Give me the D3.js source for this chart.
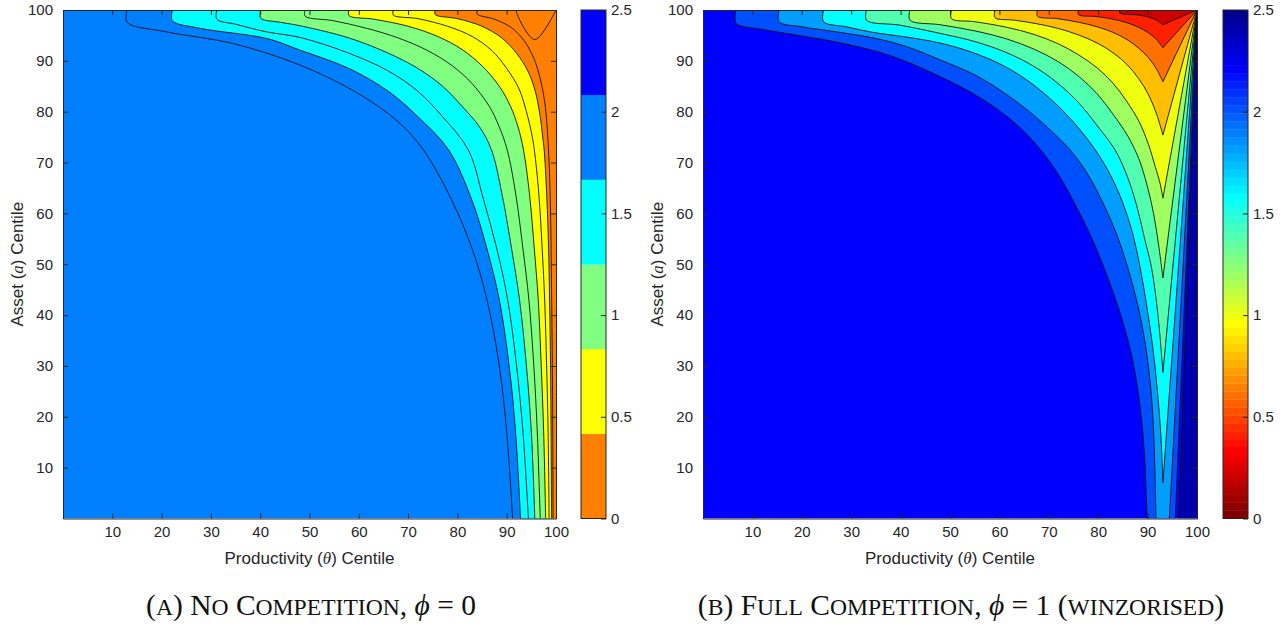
<!DOCTYPE html>
<html><head><meta charset="utf-8">
<script src="https://cdn.jsdelivr.net/npm/d3@7"></script>
<style>
body{margin:0;background:#fff;}
svg{display:block;}
text{fill:#262626;}
</style></head><body>
<svg id="chart" width="1287" height="626"></svg>
<script>
// ---------------- DATA ----------------
const xTicks = [10,20,30,40,50,60,70,80,90,100];
const yTicks = [10,20,30,40,50,60,70,80,90,100];
const cbTicks = [0,0.5,1,1.5,2,2.5];
const cbTickLabels = ["0","0.5","1","1.5","2","2.5"];
const cmapA = ["#ff8000","#ffff00","#80ff80","#00ffff","#0080ff","#0000ff"]; // 6-colour map, 0 -> 2.5

// Panel A: background band value, then each contour line (top edge -> bottom/right edge) with value of region beyond it
const bgValueA = 2.0;
const regionValuesA = [1.8,1.6,1.4,1.2,1.0,0.8,0.6,0.4,0.2,0.0];
const linesA = [
  [[13,100],[13,97.6],[21,95.7],[34.5,93.4],[48,89.2],[60,83.5],[68,78],[73.1,72.5],[78.8,62.7],[83,53],[86,43],[88.5,30],[90,17],[91.2,0]],
  [[22.2,100],[22.2,97.9],[27.8,96.4],[41.3,94.4],[48.1,92.1],[58,88.5],[66,84],[72,79],[78.2,72.5],[82.9,62.7],[86,53],[88.5,43],[90.5,30],[91.8,17],[92.8,0]],
  [[31.2,100],[31.2,98.2],[35,97.2],[41.3,95.7],[48.1,94.6],[58,91.5],[66,88],[72,84],[77,79],[82.2,72.5],[85.3,62.7],[88,53],[90.2,43],[92,30],[93.3,17],[94.4,0]],
  [[40.1,100],[40.1,98.4],[44,97.6],[48.1,96.9],[58,94.5],[66,91.5],[72,88.5],[77,85],[81,81],[84.5,77],[86.9,72.5],[89,64],[91,53],[92.6,43],[94,30],[95,17],[95.7,0]],
  [[49.1,100],[49.1,98.8],[54.8,97.9],[61.6,96.4],[68,94.5],[74,92],[79,89],[83,85.5],[86.5,81],[88.5,77],[90.1,72.5],[91.8,64],[93.3,53],[94.5,43],[95.5,30],[96.2,17],[96.8,0]],
  [[58,100],[58,98.9],[63,98.2],[70,96.8],[76,94.8],[81,92.2],[85,89],[88.5,85],[90.8,81],[92.3,77],[93.4,72.5],[94.6,64],[95.6,53],[96.4,43],[97,30],[97.5,17],[97.9,0]],
  [[67,100],[67,99],[72,98.3],[78,96.8],[83,94.8],[87,92],[90,88.5],[92.5,84.5],[94,80],[95,76],[95.6,72.5],[96.5,64],[97.2,53],[97.7,43],[98.1,30],[98.4,17],[98.6,0]],
  [[75.5,100],[75.5,99.1],[80,98.3],[85,96.8],[89,94.5],[92,91.5],[94.3,88],[95.8,84],[96.8,79],[97.3,75],[97.6,72.5],[98.1,64],[98.5,53],[98.7,43],[98.9,30],[99,17],[99.1,0]],
  [[84,100],[84,99.2],[87.5,98.2],[91,96.5],[93.5,94],[95.5,90.5],[96.8,86.5],[97.7,82],[98.2,77],[98.6,70],[98.9,60],[99.1,45],[99.3,25],[99.4,0]],
  [[92,100],[92,99.5],[95.7,94.2],[100,100]]
];

// Panel B: background band, right-edge strip, then nested V-shaped contours (left arm, right arm)
const bgValueB = 2.2;
const stripValueB = 2.4;
const stripLineB = [[100,100],[96.3,0]];
const regionValuesB = [2.0,1.8,1.6,1.4,1.2,1.0,0.8,0.6,0.4,0.2];
const leftArmsB = [
  [[6.7,100],[6.7,97.4],[12,96.2],[20,94.9],[28,93.5],[38,91],[48,86.9],[56,82.8],[62.5,78.3],[67.5,73.5],[71.7,68],[75.2,62],[78.3,56],[80.9,50],[83.2,44],[85.2,38],[87,31],[88.5,22],[89.4,12],[89.9,0]],
  [[15.4,100],[15.4,97.7],[20,96.7],[27.7,95.6],[35,94.4],[41.2,92.8],[48,90.2],[55.5,87],[62,83],[67.3,79],[71.8,75],[74.3,72.5],[77.7,68],[81,62],[83.7,56],[86,49.3],[88,42],[89.6,34],[90.7,25],[91.3,15],[91.7,0]],
  [[24.4,100],[24.4,97.7],[29,96.7],[34.4,95.6],[41,94.7],[48,93.5],[55,91.5],[61.5,88.7],[67,85.2],[71.8,81.2],[76,76.8],[79.4,72.5],[82.5,67.5],[85,62],[87,56],[88.5,49.3],[89.8,42],[91,34],[92,25],[92.7,16],[93.1,7]],
  [[33.1,100],[33.1,98],[40,97],[48,95.4],[55,93.8],[61.5,91.6],[67,88.9],[71.8,85.6],[76,81.8],[80,77],[83.4,72.5],[85.8,67.5],[87.8,61.5],[89.4,55],[90.8,49.3],[92.1,40],[93.1,28.7]],
  [[41.9,100],[41.9,98],[48,97.1],[55,95.9],[61.5,94.3],[67,92.3],[71.8,89.9],[76,87],[79.8,83.5],[83,79.5],[86,75.2],[88.2,70.8],[89.9,65.5],[91.2,60],[92.2,54],[93.1,47.3]],
  [[50.3,100],[50.3,98.3],[55,97.7],[61.5,96.6],[67,95.2],[71.8,93.4],[76,91.2],[79.8,88.6],[83,85.6],[85.8,82],[88.3,78],[90.2,73.5],[91.6,69],[92.5,66],[93.1,63]],
  [[59.1,100],[59.1,98.5],[63,98],[67,97.4],[71.8,96.4],[76,95.1],[79.8,93.5],[83,91.6],[85.8,89.3],[88.2,86.5],[90.2,83.3],[91.8,79.6],[93.1,75.4]],
  [[67.7,100],[67.7,98.8],[71.8,98.3],[76,97.6],[79.8,96.7],[83,95.6],[85.8,94.2],[88.2,92.5],[90.2,90.6],[91.8,88.4],[93.1,85.9]],
  [[76,100],[76,99.1],[79.8,98.7],[83,98.2],[85.8,97.5],[88.2,96.6],[90.2,95.5],[91.8,94.2],[93.1,92.6]],
  [[84.4,100],[84.4,99.4],[88.2,99],[90.2,98.6],[91.8,98],[93.1,97.1]]
];
const rightArmsB = [
  [[95.6,0],[100,100]],
  [[94.4,0],[100,100]],
  [[93.1,7],[100,100]],
  [[93.1,28.7],[100,100]],
  [[93.1,47.3],[100,100]],
  [[93.1,63],[100,100]],
  [[93.1,75.4],[100,100]],
  [[93.1,85.9],[100,100]],
  [[93.1,92.6],[100,100]],
  [[93.1,97.1],[100,100]]
];

// ---------------- COLOUR MAPS ----------------
function jet64(i){ // MATLAB jet(64), row i = 1..64
  const r = i<=24?0 : i<=40?(i-24)/16 : i<=55?1 : (72-i)/16;
  const g = i<=8?0 : i<=24?(i-8)/16 : i<=39?1 : i<=55?(56-i)/16 : 0;
  const b = i<=8?(i+8)/16 : i<=23?1 : i<=39?(40-i)/16 : 0;
  return d3.rgb(Math.round(r*255),Math.round(g*255),Math.round(b*255)).formatHex();
}
function colorB(v){ // flipped jet(64), caxis [0, 2.5]
  const k = Math.max(1, Math.min(64, Math.floor(v/2.5*64)+1));
  return jet64(65-k);
}
function colorA(v){
  const k = Math.max(0, Math.min(5, Math.floor(v/2.5*6)));
  return cmapA[k];
}

// ---------------- DRAW ----------------
const svg = d3.select("#chart");
const AX = "#262626";
const TOP = 10, BOTTOM = 518.5;
const SANS = "'Liberation Sans',Arial,sans-serif";

function smallCaps(textSel, str, ratio){
  const runs = [];
  for(const ch of str){
    const lower = ch !== ch.toUpperCase();
    if(runs.length && runs[runs.length-1].lower===lower) runs[runs.length-1].s += ch;
    else runs.push({lower, s:ch});
  }
  runs.forEach(r=>{
    const t = textSel.append("tspan").text(r.lower ? r.s.toUpperCase() : r.s);
    if(r.lower) t.style("font-size", (ratio*100)+"%");
  });
}

function panel(cfg){
  const g = svg.append("g");
  const x = d3.scaleLinear([0,100],[cfg.left,cfg.right]);
  const y = d3.scaleLinear([0,100],[BOTTOM,TOP]);
  const id = "clip"+cfg.name;
  svg.append("clipPath").attr("id",id).append("rect")
    .attr("x",cfg.left).attr("y",TOP).attr("width",cfg.right-cfg.left).attr("height",BOTTOM-TOP);
  const plot = g.append("g").attr("clip-path",`url(#${id})`);
  const line = d3.line().x(d=>x(d[0])).y(d=>y(d[1])).curve(d3.curveCatmullRom.alpha(0.5));
  plot.append("rect").attr("x",cfg.left).attr("y",TOP).attr("width",cfg.right-cfg.left).attr("height",BOTTOM-TOP)
    .attr("fill",cfg.color(cfg.bg));
  function regionPath(arms){
    let d = "";
    arms.forEach((a,i)=>{ let s = line(a); if(i>0) s = "L"+s.slice(1); d += s; });
    const last = arms[arms.length-1][arms[arms.length-1].length-1];
    if(last[1] <= 0 && last[0] < 100) d += `L${x(100)},${y(0)}`;
    if(!(last[0]===100 && last[1]===100)) d += `L${x(100)},${y(100)}`;
    return d+"Z";
  }
  cfg.regions.forEach(r=>{
    plot.append("path").attr("d",regionPath(r.arms)).attr("fill",cfg.color(r.value)).attr("stroke","none");
  });
  cfg.regions.forEach(r=>{
    r.arms.forEach(a=>{
      plot.append("path").attr("d",line(a)).attr("fill","none").attr("stroke","#111").attr("stroke-width",0.9);
    });
  });
  const fs = "15px";
  const ax = g.append("g").attr("transform",`translate(0,${BOTTOM})`)
    .call(d3.axisBottom(x).tickValues(xTicks).tickSizeInner(-5).tickSizeOuter(0).tickPadding(8).tickFormat(d3.format("d")));
  const ay = g.append("g").attr("transform",`translate(${cfg.left},0)`)
    .call(d3.axisLeft(y).tickValues(yTicks).tickSizeInner(-5).tickSizeOuter(0).tickPadding(10).tickFormat(d3.format("d")));
  const at = g.append("g").attr("transform",`translate(0,${TOP})`)
    .call(d3.axisTop(x).tickValues(xTicks).tickSizeInner(-5).tickSizeOuter(0).tickFormat(""));
  const ar = g.append("g").attr("transform",`translate(${cfg.right},0)`)
    .call(d3.axisRight(y).tickValues(yTicks).tickSizeInner(-5).tickSizeOuter(0).tickFormat(""));
  [ax,ay,at,ar].forEach(a=>{
    a.selectAll("path").attr("stroke",AX).attr("stroke-width",1);
    a.selectAll("line").attr("stroke",AX).attr("stroke-width",1);
    a.selectAll("text").attr("fill",AX).style("font-family",SANS).style("font-size",fs);
  });
  const cx = (cfg.left+cfg.right)/2;
  const xt = g.append("text").attr("x",cx).attr("y",564).attr("text-anchor","middle")
    .style("font-family",SANS).style("font-size","17px");
  xt.append("tspan").text("Productivity (");
  xt.append("tspan").text("θ").style("font-family","'Liberation Serif',serif").style("font-style","italic");
  xt.append("tspan").text(") Centile");
  const yt = g.append("text").attr("transform",`translate(${cfg.left-40},${(TOP+BOTTOM)/2}) rotate(-90)`).attr("text-anchor","middle")
    .style("font-family",SANS).style("font-size","17px");
  yt.append("tspan").text("Asset (");
  yt.append("tspan").text("a").style("font-family","'Liberation Serif',serif").style("font-style","italic");
  yt.append("tspan").text(") Centile");
  const cb = g.append("g");
  const cy = d3.scaleLinear([0,2.5],[BOTTOM,TOP]);
  cfg.cbBands.forEach(b=>{
    cb.append("rect").attr("x",cfg.cbX).attr("width",cfg.cbW).attr("y",cy(b[1])).attr("height",cy(b[0])-cy(b[1])+0.3)
      .attr("fill",cfg.color((b[0]+b[1])/2));
  });
  cb.append("rect").attr("x",cfg.cbX).attr("y",TOP).attr("width",cfg.cbW).attr("height",BOTTOM-TOP)
    .attr("fill","none").attr("stroke",AX).attr("stroke-width",1);
  const cba = cb.append("g").attr("transform",`translate(${cfg.cbX+cfg.cbW},0)`)
    .call(d3.axisRight(cy).tickValues(cbTicks).tickSizeInner(-5).tickSizeOuter(0).tickPadding(5).tickFormat((d,i)=>cbTickLabels[i]));
  cba.select("path").remove();
  cba.selectAll("line").attr("stroke",AX);
  cba.selectAll("text").attr("fill",AX).style("font-family",SANS).style("font-size",fs);
  const cap = svg.append("text").attr("x",cfg.capX).attr("y",615).attr("text-anchor","middle")
    .style("font-family","'Liberation Serif',serif").style("font-size","29.5px").style("fill","#111");
  smallCaps(cap, cfg.capA, 0.8);
  cap.append("tspan").style("font-style","italic").text("ϕ");
  cap.append("tspan").text(cfg.capB);
  if(cfg.capC) smallCaps(cap, cfg.capC, 0.8);
}

const regionsA = linesA.map((l,i)=>({arms:[l], value: regionValuesA[i]}));
panel({name:"A", left:63, right:556, bg:bgValueA, color:colorA, regions:regionsA,
  cbX:581, cbW:25, cbBands:d3.range(6).map(k=>[k*2.5/6,(k+1)*2.5/6]),
  capX:311, capA:"(a) No Competition, ", capB:" = 0", capC:null});

const regionsB = [{arms:[stripLineB], value: stripValueB}]
  .concat(leftArmsB.map((l,i)=>({arms:[l, rightArmsB[i]], value: regionValuesB[i]})));
panel({name:"B", left:703, right:1197, bg:bgValueB, color:colorB, regions:regionsB,
  cbX:1223, cbW:25, cbBands:d3.range(64).map(k=>[k*2.5/64,(k+1)*2.5/64]),
  capX:961, capA:"(b) Full Competition, ", capB:" = 1 ", capC:"(winzorised)"});
</script></body></html>
